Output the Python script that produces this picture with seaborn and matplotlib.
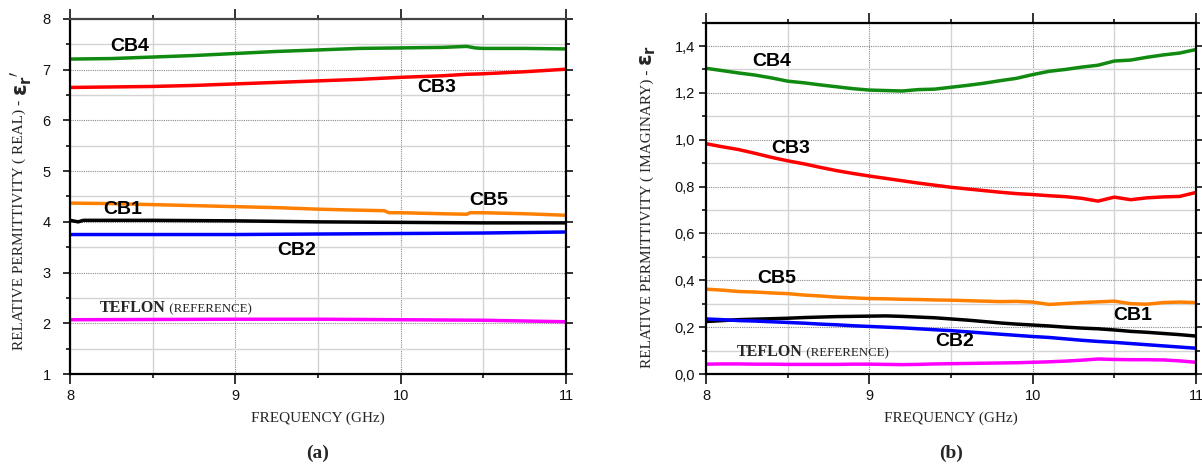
import matplotlib
matplotlib.use("Agg")
import matplotlib.pyplot as plt
from matplotlib.ticker import MultipleLocator, FuncFormatter
import pandas as pd
import seaborn as sns

# ---------------- real part (panel a) ----------------
freq_cb4_re = [8.0, 8.25, 8.5, 8.75, 9.0, 9.25, 9.5, 9.75, 10.0, 10.25, 10.4, 10.45, 10.5, 10.75, 11.0]
cb4_re = [7.21, 7.22, 7.25, 7.28, 7.32, 7.36, 7.39, 7.42, 7.43, 7.44, 7.46, 7.43, 7.42, 7.42, 7.41]

freq_cb3_re = [8.0, 8.25, 8.5, 8.75, 9.0, 9.25, 9.5, 9.75, 10.0, 10.25, 10.4, 10.5, 10.75, 11.0]
cb3_re = [6.65, 6.66, 6.67, 6.69, 6.72, 6.75, 6.78, 6.81, 6.85, 6.88, 6.91, 6.92, 6.96, 7.01]

freq_cb5_re = [8.0, 8.25, 8.5, 8.75, 9.0, 9.25, 9.5, 9.75, 9.9, 9.93, 10.0, 10.25, 10.4, 10.42, 10.5, 10.75, 11.0]
cb5_re = [4.37, 4.36, 4.34, 4.32, 4.30, 4.28, 4.25, 4.23, 4.22, 4.18, 4.18, 4.16, 4.15, 4.18, 4.18, 4.16, 4.13]

freq_cb1_re = [8.0, 8.05, 8.08, 8.5, 9.0, 9.5, 10.0, 10.5, 11.0]
cb1_re = [4.03, 4.00, 4.03, 4.03, 4.02, 4.00, 3.99, 3.98, 3.98]

freq_cb2_re = [8.0, 8.5, 9.0, 9.5, 10.0, 10.5, 11.0]
cb2_re = [3.75, 3.75, 3.75, 3.76, 3.77, 3.78, 3.80]

freq_tef_re = [8.0, 9.0, 9.5, 10.0, 10.5, 11.0]
tef_re = [2.07, 2.08, 2.08, 2.07, 2.06, 2.03]

# ---------------- imaginary part (panel b) ----------------
freq_im = [8.0, 8.1, 8.2, 8.3, 8.4, 8.5, 8.6, 8.7, 8.8, 8.9, 9.0, 9.1, 9.2, 9.3, 9.4, 9.5,
           9.6, 9.7, 9.8, 9.9, 10.0, 10.1, 10.2, 10.3, 10.4, 10.5, 10.6, 10.7, 10.8, 10.9, 11.0]
cb4_im = [1.305, 1.295, 1.285, 1.276, 1.264, 1.250, 1.243, 1.234, 1.226, 1.218, 1.212, 1.210,
          1.208, 1.214, 1.216, 1.224, 1.232, 1.241, 1.252, 1.262, 1.278, 1.292, 1.300, 1.310,
          1.318, 1.336, 1.340, 1.352, 1.362, 1.370, 1.385]
cb3_im = [0.983, 0.970, 0.958, 0.942, 0.925, 0.910, 0.897, 0.882, 0.868, 0.856, 0.845, 0.835,
          0.825, 0.815, 0.806, 0.797, 0.790, 0.783, 0.776, 0.770, 0.766, 0.761, 0.757, 0.750,
          0.738, 0.755, 0.744, 0.752, 0.756, 0.758, 0.775]
cb5_im = [0.362, 0.358, 0.352, 0.350, 0.346, 0.343, 0.337, 0.333, 0.328, 0.325, 0.322, 0.321,
          0.319, 0.318, 0.316, 0.315, 0.313, 0.311, 0.309, 0.310, 0.307, 0.297, 0.301, 0.305,
          0.308, 0.311, 0.300, 0.298, 0.305, 0.307, 0.305]
cb1_im = [0.224, 0.228, 0.232, 0.234, 0.236, 0.238, 0.241, 0.243, 0.245, 0.246, 0.247, 0.248,
          0.246, 0.243, 0.240, 0.235, 0.230, 0.224, 0.218, 0.213, 0.209, 0.205, 0.200, 0.196,
          0.193, 0.188, 0.182, 0.178, 0.173, 0.168, 0.162]
cb2_im = [0.235, 0.232, 0.228, 0.226, 0.223, 0.220, 0.217, 0.213, 0.210, 0.206, 0.203, 0.200,
          0.197, 0.193, 0.189, 0.185, 0.180, 0.175, 0.170, 0.165, 0.160, 0.156, 0.150, 0.144,
          0.139, 0.135, 0.130, 0.125, 0.120, 0.115, 0.110]
tef_im = [0.042, 0.043, 0.043, 0.042, 0.042, 0.041, 0.041, 0.041, 0.041, 0.042, 0.042, 0.041,
          0.040, 0.041, 0.043, 0.044, 0.045, 0.046, 0.047, 0.048, 0.050, 0.052, 0.055, 0.059,
          0.064, 0.062, 0.061, 0.061, 0.060, 0.056, 0.050]

sample_names = ["CB4", "CB3", "CB5", "CB1", "CB2", "TEFLON"]
sample_colors = {"CB4": "#108a10", "CB3": "#ff0000", "CB5": "#ff8000",
                 "CB1": "#000000", "CB2": "#0000ff", "TEFLON": "#ff00ff"}

# curve-label anchor points (frequency, value) for each panel
label_pos_re = {"CB4": (8.36, 7.45), "CB3": (10.22, 6.64), "CB5": (10.53, 4.43),
                "CB1": (8.32, 4.25), "CB2": (9.37, 3.44)}
label_pos_im = {"CB4": (8.40, 1.335), "CB3": (8.52, 0.964), "CB5": (8.435, 0.409),
                "CB1": (10.61, 0.248), "CB2": (9.52, 0.138)}
teflon_pos_re = (8.18, 2.22)
teflon_pos_im = (8.19, 0.075)


def long_frame(parts):
    frames = []
    for name, f, v in parts:
        frames.append(pd.DataFrame({"freq": f, "value": v, "sample": name}))
    return pd.concat(frames, ignore_index=True)


df_re = long_frame([
    ("CB4", freq_cb4_re, cb4_re), ("CB3", freq_cb3_re, cb3_re), ("CB5", freq_cb5_re, cb5_re),
    ("CB1", freq_cb1_re, cb1_re), ("CB2", freq_cb2_re, cb2_re), ("TEFLON", freq_tef_re, tef_re),
])
df_im = long_frame([
    ("CB4", freq_im, cb4_im), ("CB3", freq_im, cb3_im), ("CB5", freq_im, cb5_im),
    ("CB1", freq_im, cb1_im), ("CB2", freq_im, cb2_im), ("TEFLON", freq_im, tef_im),
])

sns.set_theme(style="ticks")
plt.rcParams["font.family"] = ["Liberation Sans", "DejaVu Sans"]
plt.rcParams["mathtext.fontset"] = "dejavusans"

W, H = 1202, 469
fig = plt.figure(figsize=(W / 100, H / 100), dpi=100)
ax_re = fig.add_axes([70 / W, (H - 374) / H, (566 - 70) / W, (374 - 19) / H])
ax_im = fig.add_axes([706 / W, (H - 374) / H, (1196 - 706) / W, (374 - 22.6) / H])

SERIF = ["Liberation Serif", "DejaVu Serif"]


def draw_curves(ax, df, label_pos, teflon_pos):
    sns.lineplot(data=df, x="freq", y="value", hue="sample", hue_order=sample_names,
                 palette=sample_colors, estimator=None, sort=False, linewidth=2.5,
                 legend=False, ax=ax)
    for name, (fx, fy) in label_pos.items():
        ax.text(fx, fy, name, ha="center", va="center", fontsize=14, fontweight="bold",
                family=["Liberation Sans", "DejaVu Sans"], color="#000000")
    t = ax.text(teflon_pos[0], teflon_pos[1], "TEFLON", ha="left", va="baseline",
                fontsize=11.5, fontweight="bold", family=SERIF)
    return t


def style_axes(ax, ylim, ymajor, yminor, yfmt, ypad, top_color):
    ax.set_xlim(8, 11)
    ax.set_ylim(*ylim)
    ax.xaxis.set_major_locator(MultipleLocator(1))
    ax.xaxis.set_minor_locator(MultipleLocator(0.5))
    ax.yaxis.set_major_locator(MultipleLocator(ymajor))
    ax.yaxis.set_minor_locator(MultipleLocator(yminor))
    ax.yaxis.set_major_formatter(FuncFormatter(yfmt))
    ax.set_axisbelow(True)
    ax.grid(which="major", linestyle=(0, (1, 1)), color="#8a8a8a", linewidth=0.8)
    ax.grid(which="minor", linestyle="-", color="#d4d4d4", linewidth=1.0)
    ax.tick_params(which="both", direction="out", top=True, right=True,
                   width=1.2, colors="#111111", labelsize=10.5)
    ax.tick_params(which="major", length=5)
    ax.tick_params(which="minor", length=3)
    ax.tick_params(axis="x", which="major", length=7, pad=4)
    ax.tick_params(axis="y", which="major", pad=ypad)
    for side in ["left", "right", "bottom", "top"]:
        ax.spines[side].set_linewidth(1.6)
        ax.spines[side].set_color("#000000")
    ax.spines["top"].set_color(top_color)
    ax.set_xlabel("FREQUENCY (GHz)", family=SERIF, fontsize=11, labelpad=6)
    ax.set_ylabel("")


tef_re_txt = draw_curves(ax_re, df_re, label_pos_re, teflon_pos_re)
tef_im_txt = draw_curves(ax_im, df_im, label_pos_im, teflon_pos_im)

style_axes(ax_re, (1, 8), 1, 0.5, lambda v, p: f"{v:.0f}", 9, "#444444")
style_axes(ax_im, (0, 1.5), 0.2, 0.1, lambda v, p: f"{v:.1f}".replace(".", ","), 3, "#000000")

fig.text(318 / W, 1 - 453 / H, "(a)", ha="center", va="center", fontsize=14,
         fontweight="bold", family=SERIF)
fig.text(951 / W, 1 - 453 / H, "(b)", ha="center", va="center", fontsize=14,
         fontweight="bold", family=SERIF)

# y-axis titles: serif description followed by a bold epsilon symbol
ylab_re = fig.text(19.5 / W, 1 - 350 / H, "RELATIVE PERMITTIVITY ( REAL) - ", rotation=90,
                   ha="center", va="bottom", fontsize=11, family=SERIF)
ylab_im = fig.text(647.5 / W, 1 - 368 / H, "RELATIVE PERMITTIVITY ( IMAGINARY) - ", rotation=90,
                   ha="center", va="bottom", fontsize=11, family=SERIF)

fig.canvas.draw()
renderer = fig.canvas.get_renderer()

for lab, sym, xc in [(ylab_re, r"$\mathbf{\varepsilon_r}'$", 21 / W),
                     (ylab_im, r"$\mathbf{\varepsilon_r}$", 648 / W)]:
    bb = lab.get_window_extent(renderer)
    fig.text(xc, bb.y1 / fig.bbox.height, sym, rotation=90, ha="center", va="bottom",
             fontsize=15, fontweight="bold")

for ax, tt in [(ax_re, tef_re_txt), (ax_im, tef_im_txt)]:
    bb = tt.get_window_extent(renderer)
    x_end, _ = ax.transData.inverted().transform((bb.x1, bb.y0))
    ax.text(x_end, tt.get_position()[1], " (REFERENCE)", ha="left", va="baseline",
            fontsize=9.3, family=SERIF)

fig.savefig("out.png", dpi=100)
